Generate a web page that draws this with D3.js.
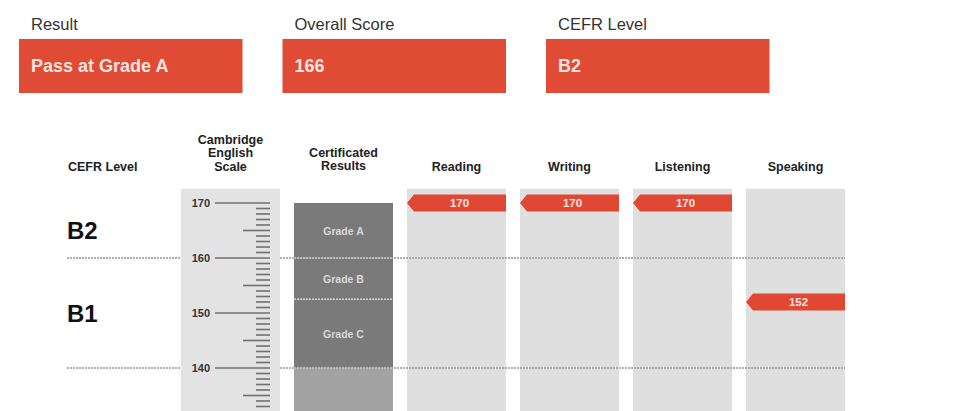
<!DOCTYPE html>
<html><head><meta charset="utf-8">
<script src="https://cdn.jsdelivr.net/npm/d3@7"></script>
<style>body{margin:0;background:#fff}svg{display:block;font-family:"Liberation Sans",Arial,sans-serif}</style>
</head><body><svg id="c" width="966" height="411"></svg>
<script>
// ---- data ----
const summaryLabels = ["Result", "Overall Score", "CEFR Level"];
const summaryValues = ["Pass at Grade A", "166", "B2"];
const columns = ["scale", "cert", "Reading", "Writing", "Listening", "Speaking"];
const skills = ["Reading", "Writing", "Listening", "Speaking"];
const skillScores = [170, 170, 170, 152];
const cefrLevels = ["B2", "B1", "A2"];
const cefrLow = [160, 140, 120];
const cefrHigh = [170, 160, 140];
const grades = ["Grade A", "Grade B", "Grade C"];
const gradeLow = [160, 152.5, 140];
const gradeHigh = [170, 160, 152.5];
const scaleMajorTicks = [170, 160, 150, 140];
const levelBoundaries = [160, 140];

const svg = d3.select("#c");
const red = "#e04833";

// ---- summary boxes ----
const xBox = d3.scaleBand().domain(summaryLabels).range([-1, 789.5]).paddingInner(40 / 263.5).paddingOuter(20 / 263.5);
const sg = svg.append("g");
summaryLabels.forEach((lab, i) => {
  const x = xBox(lab);
  sg.append("text").attr("x", x + 12).attr("y", 30).attr("font-size", 16.5).attr("fill", "#333").text(lab);
  sg.append("rect").attr("x", x).attr("y", 39).attr("width", xBox.bandwidth()).attr("height", 54).attr("fill", "#e04b36");
  sg.append("text").attr("x", x + 12).attr("y", 72).attr("font-size", 18).attr("font-weight", "bold").attr("fill", "#fbe4dd").text(summaryValues[i]);
});

// ---- scales ----
const y = d3.scaleLinear().domain([170, 140]).range([203, 368]);
const x = d3.scaleBand().domain(columns).range([174, 852]).paddingInner(14 / 113).paddingOuter(7 / 113);
const bw = x.bandwidth();
const colTop = y(172.6);
const colBottom = y(120);

// ---- headers ----
const hg = svg.append("g").attr("font-weight", "bold").attr("font-size", 12.5).attr("fill", "#222").attr("text-anchor", "middle");
hg.append("text").attr("x", 68).attr("y", 171).attr("text-anchor", "start").text("CEFR Level");
["Cambridge", "English", "Scale"].forEach((t, i) => hg.append("text").attr("x", x("scale") + bw / 2).attr("y", 144 + i * 13.3).text(t));
["Certificated", "Results"].forEach((t, i) => hg.append("text").attr("x", x("cert") + bw / 2).attr("y", 157 + i * 13.3).text(t));
skills.forEach(s => hg.append("text").attr("x", x(s) + bw / 2).attr("y", 171).text(s));

// ---- column backgrounds ----
svg.append("rect").attr("x", x("scale")).attr("y", colTop).attr("width", bw).attr("height", colBottom - colTop).attr("fill", "#e3e3e3");
skills.forEach(s => svg.append("rect").attr("x", x(s)).attr("y", colTop).attr("width", bw).attr("height", colBottom - colTop).attr("fill", "#dfdfdf"));

// ---- certificated results ----
svg.append("rect").attr("x", x("cert")).attr("y", y(140)).attr("width", bw).attr("height", colBottom - y(140)).attr("fill", "#a2a2a2");
grades.forEach((g, i) => {
  svg.append("rect").attr("x", x("cert")).attr("y", y(gradeHigh[i])).attr("width", bw).attr("height", y(gradeLow[i]) - y(gradeHigh[i])).attr("fill", "#7a7a7a");
  svg.append("text").attr("x", x("cert") + bw / 2).attr("y", (y(gradeHigh[i]) + y(gradeLow[i])) / 2 + 4)
    .attr("text-anchor", "middle").attr("font-size", 10.5).attr("font-weight", "bold").attr("fill", "#d8d8d8").text(g);
});
// grade boundary (B/C)
svg.append("line").attr("x1", x("cert")).attr("x2", x("cert") + bw).attr("y1", y(152.5)).attr("y2", y(152.5))
  .attr("stroke", "#d0d0d0").attr("stroke-width", 1.5).attr("stroke-dasharray", "2,1");

// ---- level boundary dotted lines ----
levelBoundaries.forEach(v => {
  svg.append("line").attr("x1", 67).attr("x2", x("scale")).attr("y1", y(v)).attr("y2", y(v))
    .attr("stroke", "#999").attr("stroke-width", 1.5).attr("stroke-dasharray", "2,1");
  svg.append("line").attr("x1", x("scale") + bw).attr("x2", x("Speaking") + bw).attr("y1", y(v)).attr("y2", y(v))
    .attr("stroke", "#999").attr("stroke-width", 1.5).attr("stroke-dasharray", "2,1");
  svg.append("line").attr("x1", x("cert")).attr("x2", x("cert") + bw).attr("y1", y(v)).attr("y2", y(v))
    .attr("stroke", "#c8c8c8").attr("stroke-width", 1.5).attr("stroke-dasharray", "2,1");
});

// ---- CEFR level labels ----
cefrLevels.forEach((l, i) => {
  svg.append("text").attr("x", 67).attr("y", (y(cefrLow[i]) + y(cefrHigh[i])) / 2 + 8.5)
    .attr("font-size", 24).attr("font-weight", "bold").attr("fill", "#111").text(l);
});

// ---- Cambridge English Scale ruler ----
const sx = x("scale");
const ticks = d3.range(123, 171);
const rg = svg.append("g");
ticks.forEach(v => {
  const major = v % 10 === 0, mid = v % 5 === 0 && !major;
  const x1 = major ? sx + 34 : mid ? sx + 62 : sx + 75;
  rg.append("line").attr("x1", x1).attr("x2", sx + 89).attr("y1", y(v)).attr("y2", y(v))
    .attr("stroke", "#707070").attr("stroke-width", 1.6);
});
scaleMajorTicks.forEach(v => {
  rg.append("text").attr("x", sx + 29).attr("y", y(v) + 4).attr("text-anchor", "end")
    .attr("font-size", 11).attr("font-weight", "bold").attr("fill", "#333").text(v);
});

// ---- skill score markers ----
const mh = 17, tip = 7;
skills.forEach((s, i) => {
  const x0 = x(s), x1 = x0 + bw, cy = y(skillScores[i]);
  svg.append("path").attr("d", `M${x0},${cy} L${x0 + tip},${cy - mh / 2} L${x1},${cy - mh / 2} L${x1},${cy + mh / 2} L${x0 + tip},${cy + mh / 2} Z`).attr("fill", red);
  svg.append("text").attr("x", x0 + bw / 2 + 3).attr("y", cy + 4).attr("text-anchor", "middle")
    .attr("font-size", 11.5).attr("font-weight", "bold").attr("fill", "#fde6e0").text(skillScores[i]);
});
</script></body></html>
